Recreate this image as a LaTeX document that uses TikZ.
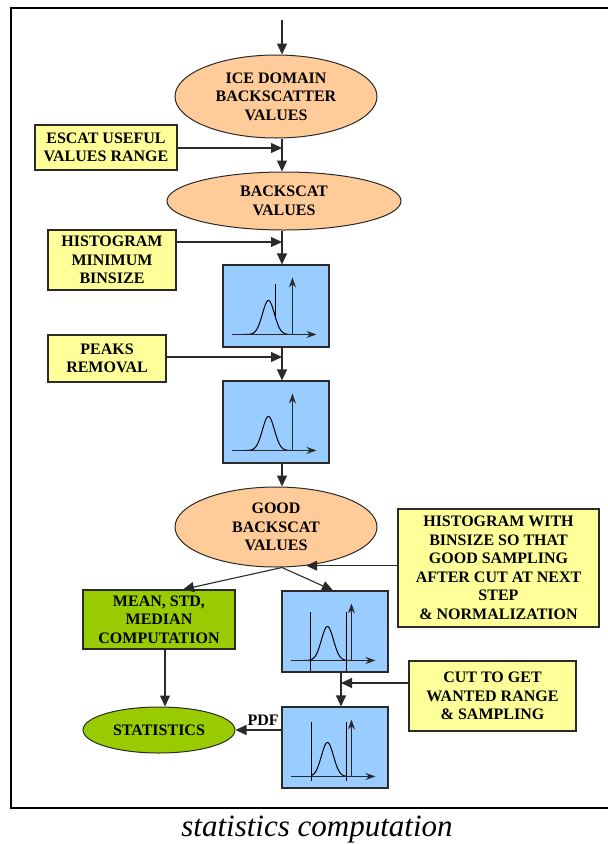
\documentclass[tikz,border=0pt]{standalone}
\usepackage{fontspec}
\setmainfont{Liberation Serif}
\usetikzlibrary{arrows.meta,shapes.geometric,calc}

\definecolor{peach}{HTML}{FFCC99}
\definecolor{lemon}{HTML}{FFFF99}
\definecolor{sky}{HTML}{99CCFF}
\definecolor{leaf}{HTML}{99CC00}
\definecolor{edge}{HTML}{2A2A2A}

\tikzset{
  lbl/.style={font=\bfseries\fontsize{16}{18.5}\selectfont, align=center, text=black},
  oval/.style={ellipse, draw=edge, line width=1pt, fill=peach, inner sep=0pt, lbl},
  note/.style={rectangle, draw=edge, line width=1.1pt, fill=lemon, inner sep=0pt, lbl},
  calcbox/.style={rectangle, draw=edge, line width=1.1pt, fill=leaf, inner sep=0pt, lbl},
  plotbox/.style={rectangle, draw=edge, line width=1.1pt, fill=sky,
                  minimum width=106pt, minimum height=82pt, inner sep=0pt},
  arr/.style={draw=edge, line width=1.1pt, -{Triangle[length=11pt,width=10pt]}},
  curve/.style={black, line width=1pt},
  axis/.style={draw=edge, line width=1.1pt, -{Stealth[length=10pt,width=7pt]}}
}

% axes and bell curve inside a histogram box; #1 = box, #2/#3 = curve domain
\newcommand\bellplot[3]{%
  \begin{scope}[shift={(#1.north west)}]
    \draw[curve] plot[domain=#2:#3, samples=60, smooth]
      ({46+\x},{70-34*exp(-(\x*\x)/72)});
    \draw[axis] (10,70) -- (94,70);
    \draw[axis] (70,70) -- (70,13);
  \end{scope}}

\begin{document}
\begin{tikzpicture}[x=1pt, y=-1pt]
  \useasboundingbox (0,0) rectangle (608,844);

  % outer frame (open on the right)
  \draw[line width=1.1pt] (612,8) -- (11,8) -- (11,808) -- (612,808);

  % main column
  \coordinate (spine) at (282,0);
  \coordinate (start) at (282,20);

  \node[oval, minimum width=202pt, minimum height=83pt] (e1) at (276,96.5)
    {ICE DOMAIN\\BACKSCATTER\\VALUES};
  \node[oval, minimum width=234pt, minimum height=58pt] (e2) at (284,201)
    {BACKSCAT\\VALUES};
  \node[plotbox] (b1) at (276,306) {};
  \node[plotbox] (b2) at (276,422) {};
  \node[oval, minimum width=202pt, minimum height=80pt] (e3) at (276,527)
    {GOOD\\BACKSCAT\\VALUES};

  % side inputs
  \node[note, minimum width=142pt, minimum height=45pt] (esc) at (106,147.5)
    {ESCAT USEFUL\\VALUES RANGE};
  \node[note, minimum width=128pt, minimum height=60pt] (hist) at (112,260)
    {HISTOGRAM\\MINIMUM\\BINSIZE};
  \node[note, minimum width=118pt, minimum height=47pt] (peaks) at (107,358.5)
    {PEAKS\\REMOVAL};
  \node[note, minimum width=201pt, minimum height=118pt] (hw) at (498.5,568)
    {HISTOGRAM WITH\\BINSIZE SO THAT\\GOOD SAMPLING\\AFTER CUT AT NEXT\\STEP\\\& NORMALIZATION};
  \node[note, minimum width=167pt, minimum height=70pt] (cut) at (492.5,696)
    {CUT TO GET\\WANTED RANGE\\\& SAMPLING};

  % lower branches
  \node[calcbox, minimum width=152pt, minimum height=59pt] (mean) at (159,619.5)
    {MEAN, STD,\\MEDIAN\\COMPUTATION};
  \node[plotbox, minimum height=81pt] (b3) at (335,631.5) {};
  \node[plotbox, minimum height=81pt] (b4) at (335,747.5) {};
  \node[ellipse, draw=edge, line width=1pt, fill=leaf, inner sep=0pt, lbl,
        minimum width=152pt, minimum height=46pt] (stats) at (159,730) {STATISTICS};

  % histogram contents
  \bellplot{b1}{-24}{23}
  \begin{scope}[shift={(b1.north west)}]
    \draw[curve] (53,20) -- (53,52.8);
  \end{scope}
  \bellplot{b2}{-24}{23}
  \bellplot{b3}{-24}{24}
  \begin{scope}[shift={(b3.north west)}]
    \draw[curve] (29,22) -- (29,81);
    \draw[curve] (65,22) -- (65,81);
  \end{scope}
  \bellplot{b4}{-16}{19}
  \begin{scope}[shift={(b4.north west)}]
    \draw[curve] (30,16) -- (30,75);
    \draw[curve] (65,16) -- (65,75);
  \end{scope}

  % connectors along the main column
  \draw[arr] (start) -- (e1.north -| spine);
  \draw[arr] (e1.south -| spine) -- (e2.north -| spine);
  \draw[arr] (e2.south -| spine) -- (b1.north -| spine);
  \draw[arr] (b1.south -| spine) -- (b2.north -| spine);
  \draw[arr] (b2.south -| spine) -- (e3.north -| spine);

  % side inputs joining the column
  \draw[arr] (esc.east |- 0,148) -- (spine |- 0,148);
  \draw[arr] (hist.east |- 0,242) -- (spine |- 0,242);
  \draw[arr] (peaks.east |- 0,357) -- (spine |- 0,357);
  \draw[arr] (hw.west |- e3.-52) -- (e3.-52);

  % split below the good values
  \coordinate (split) at (e3.south -| spine);
  \draw[arr] (split) -- ($(mean.north)+(24,0)$);
  \draw[arr] (split) -- ($(b3.north)+(-2,0)$);

  \coordinate (drop) at ($(b3.south)+(6,0)$);
  \draw[arr] (drop) -- ($(b4.north)+(6,0)$);
  \draw[arr] (cut.west |- 0,683) -- (drop |- 0,683);

  \draw[arr] ($(mean.south)+(6,0)$) -- ($(stats.north)+(6,0)$);
  \draw[arr] (b4.west |- stats.east) -- node[lbl, anchor=base, pos=0.4, yshift=5pt] (pdf) {PDF} (stats.east);

  % caption
  \node[font=\itshape\fontsize{31}{31}\selectfont, anchor=base] (caption) at (317,836)
    {statistics computation};
\end{tikzpicture}
\end{document}
